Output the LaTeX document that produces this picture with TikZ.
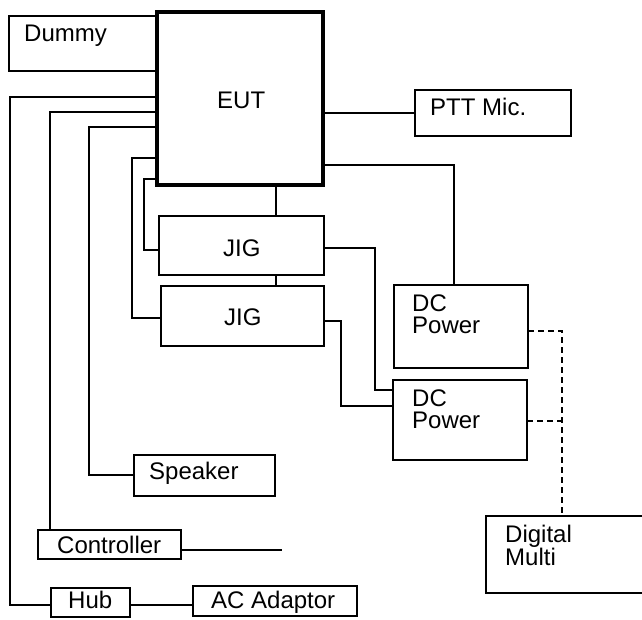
\documentclass[tikz,border=0pt]{standalone}
\usepackage{fontspec}
\setmainfont{Liberation Sans}
\usetikzlibrary{calc}
\begin{document}
\begin{tikzpicture}[x=1pt,y=-1pt,
  box/.style={draw, line width=1.7pt, fill=white, inner sep=0pt, outer sep=0pt, anchor=north west},
  eutbox/.style={draw, line width=4pt, fill=white, inner sep=0pt, outer sep=0pt, anchor=north west},
  lbl/.style={inner sep=0pt, font=\fontsize{24}{23}\selectfont, anchor=base west},
  mlbl/.style={inner sep=0pt, font=\fontsize{24}{22}\selectfont, align=left, anchor=north west},
  wire/.style={line width=1.7pt},
  dwire/.style={line width=1.7pt, dash pattern=on 6pt off 4pt}]
\useasboundingbox (0,0) rectangle (642,619);
\clip (0,0) rectangle (642,619);
% boxes
\node[box, minimum width=148pt, minimum height=55pt] (dummy) at (9,16) {};
\node[eutbox, minimum width=166pt, minimum height=173pt] (eut) at (157,12) {};
\node[box, minimum width=156pt, minimum height=46pt] (ptt) at (415,90) {};
\node[box, minimum width=165pt, minimum height=59pt] (jig1) at (159,216) {};
\node[box, minimum width=163pt, minimum height=60pt] (jig2) at (161,286) {};
\node[box, minimum width=134pt, minimum height=83pt] (dc1) at (394,285) {};
\node[box, minimum width=134pt, minimum height=80pt] (dc2) at (393,380) {};
\node[box, minimum width=141pt, minimum height=41pt] (spk) at (134,455) {};
\node[box, minimum width=143pt, minimum height=29pt] (ctrl) at (38,530) {};
\node[box, minimum width=79pt, minimum height=29pt] (hub) at (51,588) {};
\node[box, minimum width=164pt, minimum height=30pt] (ac) at (193,586) {};
\node[box, minimum width=160pt, minimum height=77pt] (dmm) at (486,516) {};
% labels
\node[lbl] (tdummy) at (24,41) {Dummy};
\node[lbl] (teut) at (217,108) {EUT};
\node[lbl] (tptt) at (430,115) {PTT Mic.};
\node[lbl] (tjig1) at (223,256) {JIG};
\node[lbl] (tjig2) at (224,325) {JIG};
\node[mlbl] (tdc1) at (412,295) {DC\\Power};
\node[mlbl] (tdc2) at (412,390) {DC\\Power};
\node[lbl] (tspk) at (149,479) {Speaker};
\node[lbl] (tctrl) at (57,553) {Controller};
\node[lbl] (thub) at (68,608) {Hub};
\node[lbl] (tac) at (211,608) {AC Adaptor};
\node[mlbl] (tdmm) at (505,525) {Digital\\Multi};
% connectors
\draw[wire] ($(eut.north west)+(0,85)$) -| ($(hub.north west)+(-41,17)$) -- ($(hub.north west)+(0,17)$);
\draw[wire] ($(eut.north west)+(0,100)$) -| ($(ctrl.north west)+(12,0)$);
\draw[wire] ($(eut.north west)+(0,115)$) -| ($(spk.north west)+(-45,20)$) -- ($(spk.north west)+(0,20)$);
\draw[wire] ($(eut.north west)+(0,146)$) -| ($(jig2.north west)+(-29,32)$) -- ($(jig2.north west)+(0,32)$);
\draw[wire] ($(eut.north west)+(0,167)$) -| ($(jig1.north west)+(-15,34)$) -- ($(jig1.north west)+(0,34)$);
\draw[wire] ($(eut.south west)+(119,0)$) -- ($(jig1.north west)+(117,0)$);
\draw[wire] ($(jig1.south west)+(117,0)$) -- ($(jig2.north west)+(115,0)$);
\draw[wire] (eut.east |- ptt.west) -- (ptt.west);
\draw[wire] ($(eut.north east)+(0,153)$) -| ($(dc1.north west)+(60,0)$);
\draw[wire] ($(jig1.north east)+(0,32)$) -| ($(dc2.north west)+(-18,10)$) -- ($(dc2.north west)+(0,10)$);
\draw[wire] ($(jig2.north east)+(0,35)$) -| ($(dc2.north west)+(-52,26)$) -- ($(dc2.north west)+(0,26)$);
\draw[dwire] ($(dc1.north east)+(0,46)$) -| ($(dmm.north west)+(76,0)$);
\draw[dwire] ($(dc2.north east)+(0,41)$) -- ($(dmm.north west)+(76,-95)$);
\coordinate (ctrlend) at (282,550);
\draw[wire] ($(ctrl.south east)+(0,-9)$) -- (ctrlend);
\draw[wire] ($(hub.north east)+(0,17)$) -- ($(ac.north west)+(0,19)$);
\end{tikzpicture}
\end{document}
